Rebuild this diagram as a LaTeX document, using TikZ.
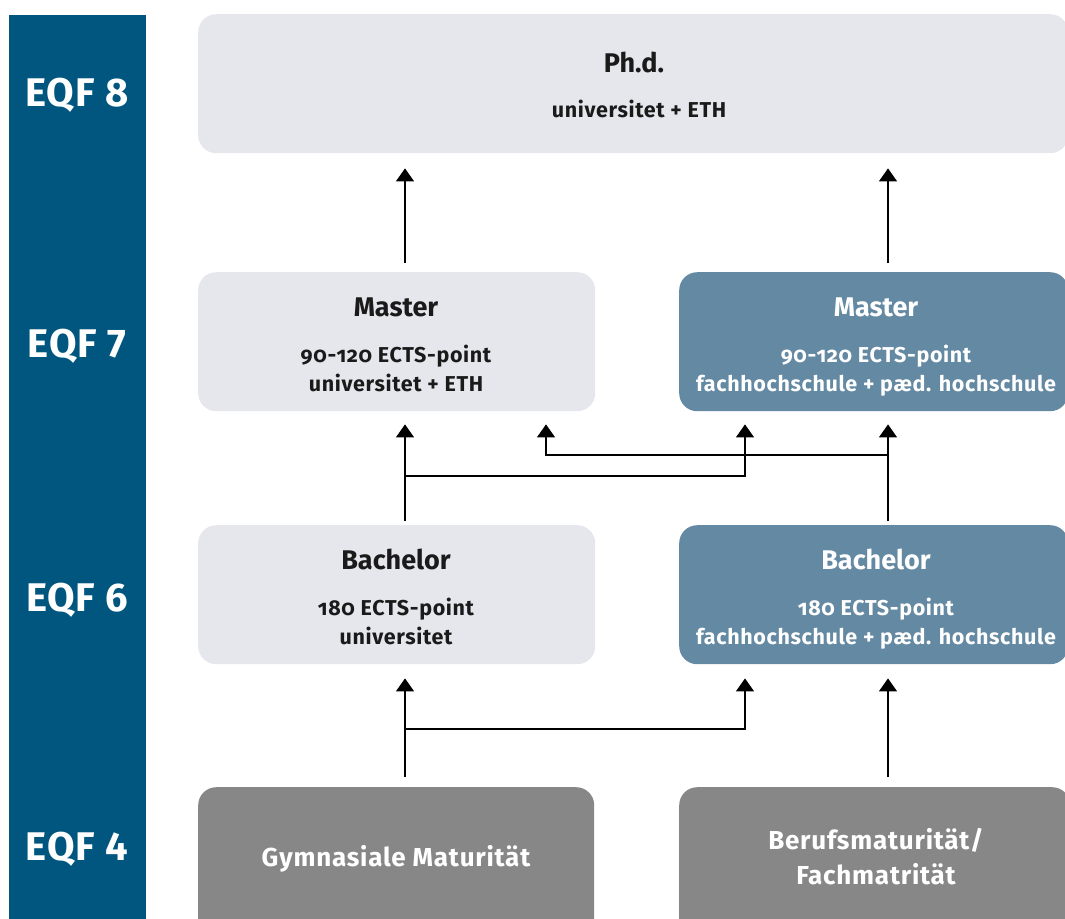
\documentclass[tikz,border=0pt]{standalone}
\usepackage{fontspec}
\setmainfont{Fira Sans}[Numbers=OldStyle]
\usetikzlibrary{arrows.meta}
\definecolor{eqfblue}{HTML}{01567F}
\definecolor{unibox}{HTML}{E6E7EC}
\definecolor{fhbox}{HTML}{6489A3}
\definecolor{matbox}{HTML}{878787}
\definecolor{ink}{HTML}{1A1A1A}
\tikzset{
  box/.style={rounded corners=18pt, inner sep=0pt, anchor=north west, draw=none},
  unistyle/.style={box, fill=unibox},
  fhstyle/.style={box, fill=fhbox},
  matstyle/.style={box, fill=matbox},
  eqf/.style={anchor=base, text=white, font=\fontsize{40}{42}\selectfont\bfseries\addfontfeatures{Numbers=Lining,LetterSpace=2}},
  title/.style={anchor=base, inner sep=0pt, font=\fontsize{27}{30}\selectfont\bfseries},
  sub/.style={anchor=base, inner sep=0pt, font=\fontsize{21.5}{24}\selectfont\bfseries\addfontfeatures{LetterSpace=3}},
  mat/.style={anchor=base, inner sep=0pt, text=white, font=\fontsize{26}{28}\selectfont\bfseries\addfontfeatures{LetterSpace=3}},
  arr/.style={line width=1.3pt, -{Triangle[width=18pt,length=13pt]}}
}
\begin{document}
\begin{tikzpicture}[x=1pt, y=-1pt]
\useasboundingbox (0,0) rectangle (1065,918);

% level column
\node[fill=eqfblue, inner sep=0pt, anchor=north west, minimum width=137pt, minimum height=920pt] (bar) at (9,15) {};
\node[eqf] (q8) at (77,106) {EQF 8};
\node[eqf] (q7) at (77,357) {EQF 7};
\node[eqf] (q6) at (77,611) {EQF 6};
\node[eqf] (q4) at (77,860) {EQF 4};

% boxes
\node[unistyle, minimum width=870pt, minimum height=139pt] (phd) at (198,14) {};
\node[unistyle, minimum width=397pt, minimum height=139pt] (mL) at (198,272) {};
\node[fhstyle,  minimum width=389pt, minimum height=139pt] (mR) at (679,272) {};
\node[unistyle, minimum width=397pt, minimum height=139pt] (bL) at (198,525) {};
\node[fhstyle,  minimum width=389pt, minimum height=139pt] (bR) at (679,525) {};
\node[matstyle, minimum width=396pt, minimum height=160pt] (gL) at (198,787) {};
\node[matstyle, minimum width=391pt, minimum height=160pt] (gR) at (679,787) {};

% texts
\node[title, text=ink] (phdT) at (634,72) {Ph.d.};
\node[sub, text=ink] (phdS) at (639,117) {universitet + ETH};

\node[title, text=ink] (mLT) at (396,316) {Master};
\node[sub, text=ink] (mLS1) at (396,362) {90-120 ECTS-point};
\node[sub, text=ink] (mLS2) at (396,391) {universitet + ETH};

\node[title, text=white] (mRT) at (876,316) {Master};
\node[sub, text=white] (mRS1) at (876,362) {90-120 ECTS-point};
\node[sub, text=white] (mRS2) at (876,391) {fachhochschule + pæd. hochschule};

\node[title, text=ink] (bLT) at (396,569) {Bachelor};
\node[sub, text=ink] (bLS1) at (396,615) {180 ECTS-point};
\node[sub, text=ink] (bLS2) at (396,644) {universitet};

\node[title, text=white] (bRT) at (876,569) {Bachelor};
\node[sub, text=white] (bRS1) at (876,615) {180 ECTS-point};
\node[sub, text=white] (bRS2) at (876,644) {fachhochschule + pæd. hochschule};

\node[mat] (gLT) at (396,866) {Gymnasiale Maturität};
\node[mat] (gRT1) at (876,849) {Berufsmaturität/};
\node[mat] (gRT2) at (876,884) {Fachmatrität};

% connector columns and junctions
\coordinate (cL) at (405,0);
\coordinate (cM) at (546,0);
\coordinate (cF) at (745,0);
\coordinate (cR) at (888,0);
\coordinate (j7a) at (405,476);
\coordinate (j7b) at (888,455);
\coordinate (j6) at (405,729);

% EQF 7 -> EQF 8
\draw[arr, shorten <=9pt, shorten >=15pt] (mL.north -| cL) -- (phd.south -| cL);
\draw[arr, shorten <=9pt, shorten >=15pt] (mR.north -| cR) -- (phd.south -| cR);

% EQF 6 -> EQF 7
\draw[arr, shorten <=4pt, shorten >=13pt] (bL.north -| cL) -- (mL.south -| cL);
\draw[arr, shorten <=4pt, shorten >=13pt] (bR.north -| cR) -- (mR.south -| cR);
\draw[arr, shorten >=13pt] (j7a) -| (mR.south -| cF);
\draw[arr, shorten >=13pt] (j7b) -| (mL.south -| cM);

% EQF 4 -> EQF 6
\draw[arr, shorten <=10pt, shorten >=14pt] (gL.north -| cL) -- (bL.south -| cL);
\draw[arr, shorten <=10pt, shorten >=14pt] (gR.north -| cR) -- (bR.south -| cR);
\draw[arr, shorten >=14pt] (j6) -| (bR.south -| cF);
\end{tikzpicture}
\end{document}
